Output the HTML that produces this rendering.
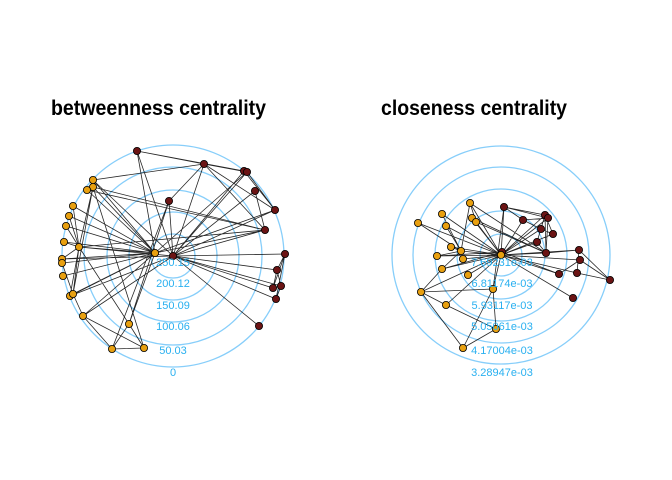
<!DOCTYPE html>
<html><head><meta charset="utf-8"><style>body{margin:0;background:#fff}svg{display:block}</style></head><body>
<svg width="672" height="480" xmlns="http://www.w3.org/2000/svg" font-family="Liberation Sans, sans-serif">
<rect width="672" height="480" fill="#fff"/>
<text x="51" y="115" font-size="21" font-weight="bold" textLength="215" lengthAdjust="spacingAndGlyphs">betweenness centrality</text>
<text x="381" y="115" font-size="21" font-weight="bold" textLength="186" lengthAdjust="spacingAndGlyphs">closeness centrality</text>
<g fill="none" stroke="#87cefa" stroke-width="1.3">
<circle cx="173" cy="256" r="111"/><circle cx="173" cy="256" r="89"/><circle cx="173" cy="256" r="66"/><circle cx="173" cy="256" r="44"/><circle cx="173" cy="256" r="22"/>
<circle cx="501" cy="255" r="109"/><circle cx="501" cy="255" r="88"/><circle cx="501" cy="255" r="66"/><circle cx="501" cy="255" r="44"/><circle cx="501" cy="255" r="21"/>
</g>
<g stroke="#000" stroke-width="0.8" stroke-opacity="0.85">
<!-- left edges -->
<path d="M173,256L137,151M173,256L204,164M173,256L244,171M173,256L247,172M173,256L255,191M173,256L275,210M173,256L265,230M173,256L169,201M173,256L285,254M173,256L277,270M173,256L273,288M173,256L281,286M173,256L276,299M173,256L259,326M173,256L79,247M173,256L93,180M173,256L265,230
M137,151L204,164M137,151L244,171M137,151L155,253M204,164L265,230M204,164L247,172M204,164L275,210M204,164L93,180M204,164L169,201M244,171L275,210M247,172L275,210M255,191L265,230M244,171L173,256M247,172L155,253M275,210L155,253M265,230L93,187M265,230L87,190M265,230L79,247M275,210L173,256
M285,254L277,270M285,254L276,299M277,270L273,288M277,270L281,286M281,286L276,299M273,288L281,286M285,254L273,288
M155,253L93,180M155,253L93,187M155,253L87,190M155,253L73,206M155,253L69,216M155,253L66,226M155,253L64,242M155,253L79,247M155,253L62,259M155,253L62,263M155,253L63,276M155,253L70,296M155,253L73,294M155,253L83,316M155,253L129,324M169,201L112,349M169,201L129,324M155,253L265,230
M79,247L93,187M79,247L73,206M79,247L69,216M79,247L66,226M79,247L64,242M79,247L62,259M79,247L70,296M79,247L73,294M79,247L129,324M93,187L73,294M93,187L144,348M73,294L83,316M73,294L155,253M73,294L62,263M70,296L173,256M83,316L112,349M83,316L144,348M83,316L173,256M129,324L112,349M129,324L144,348M112,349L144,348M62,259L173,256M64,242L155,253"/>
<!-- right edges -->
<path d="M501,255L504,207M501,255L523,220M501,255L545,215M501,255L548,218M501,255L541,229M501,255L553,234M501,255L537,242M501,255L546,253M501,255L579,250M501,255L580,260M501,255L577,273M501,255L559,274M501,255L573,298M501,255L470,203M501,255L442,214M501,255L472,218M501,255L476,222M501,255L418,223M501,255L446,226M501,255L451,247M501,255L461,251M501,255L437,256M501,255L463,259M501,255L442,269M501,255L468,275M501,255L493,289M501,255L421,292M501,255L446,305
M504,207L545,215M504,207L523,220M523,220L548,218M523,220L541,229M545,215L553,234M548,218L546,253M545,215L537,242M541,229L553,234M537,242L546,253M545,215L546,253M504,207L548,218M470,203L546,253M472,218L546,253M476,222L546,253M579,250L610,280M580,260L610,280M579,250L577,273M580,260L559,274M546,253L579,250M577,273L610,280M559,274L502,252
M470,203L461,251M470,203L476,222M442,214L461,251M446,226L461,251M418,223L461,251M451,247L461,251M437,256L461,251M442,269L461,251M442,269L421,292M421,292L493,289M421,292L446,305M421,292L463,348M493,289L496,329M493,289L463,348M493,289L504,207M446,305L496,329M463,348L496,329M468,275L501,255M442,269L502,252M437,256L502,252"/>
</g>
<g stroke="#000" stroke-width="0.8" fill="#e8a010">
<circle cx="93" cy="180" r="3.6"/><circle cx="93" cy="187" r="3.6"/><circle cx="87" cy="190" r="3.6"/><circle cx="73" cy="206" r="3.6"/><circle cx="69" cy="216" r="3.6"/><circle cx="66" cy="226" r="3.6"/><circle cx="64" cy="242" r="3.6"/><circle cx="79" cy="247" r="3.6"/><circle cx="62" cy="259" r="3.6"/><circle cx="62" cy="263" r="3.6"/><circle cx="63" cy="276" r="3.6"/><circle cx="70" cy="296" r="3.6"/><circle cx="73" cy="294" r="3.6"/><circle cx="83" cy="316" r="3.6"/><circle cx="129" cy="324" r="3.6"/><circle cx="112" cy="349" r="3.6"/><circle cx="144" cy="348" r="3.6"/><circle cx="155" cy="253" r="3.6"/>
<circle cx="470" cy="203" r="3.6"/><circle cx="442" cy="214" r="3.6"/><circle cx="472" cy="218" r="3.6"/><circle cx="476" cy="222" r="3.6"/><circle cx="418" cy="223" r="3.6"/><circle cx="446" cy="226" r="3.6"/><circle cx="451" cy="247" r="3.6"/><circle cx="461" cy="251" r="3.6"/><circle cx="437" cy="256" r="3.6"/><circle cx="463" cy="259" r="3.6"/><circle cx="442" cy="269" r="3.6"/><circle cx="468" cy="275" r="3.6"/><circle cx="421" cy="292" r="3.6"/><circle cx="493" cy="289" r="3.6"/><circle cx="446" cy="305" r="3.6"/><circle cx="496" cy="329" r="3.6"/><circle cx="463" cy="348" r="3.6"/>
</g>
<g stroke="#000" stroke-width="0.8" fill="#6b1414">
<circle cx="137" cy="151" r="3.6"/><circle cx="204" cy="164" r="3.6"/><circle cx="244" cy="171" r="3.6"/><circle cx="247" cy="172" r="3.6"/><circle cx="255" cy="191" r="3.6"/><circle cx="275" cy="210" r="3.6"/><circle cx="265" cy="230" r="3.6"/><circle cx="169" cy="201" r="3.6"/><circle cx="173" cy="256" r="3.6"/><circle cx="285" cy="254" r="3.6"/><circle cx="277" cy="270" r="3.6"/><circle cx="273" cy="288" r="3.6"/><circle cx="281" cy="286" r="3.6"/><circle cx="276" cy="299" r="3.6"/><circle cx="259" cy="326" r="3.6"/>
<circle cx="502" cy="252" r="3.6"/><circle cx="504" cy="207" r="3.6"/><circle cx="523" cy="220" r="3.6"/><circle cx="545" cy="215" r="3.6"/><circle cx="548" cy="218" r="3.6"/><circle cx="541" cy="229" r="3.6"/><circle cx="553" cy="234" r="3.6"/><circle cx="537" cy="242" r="3.6"/><circle cx="546" cy="253" r="3.6"/><circle cx="579" cy="250" r="3.6"/><circle cx="580" cy="260" r="3.6"/><circle cx="577" cy="273" r="3.6"/><circle cx="559" cy="274" r="3.6"/><circle cx="610" cy="280" r="3.6"/><circle cx="573" cy="298" r="3.6"/>
</g>
<circle cx="501" cy="255" r="3.6" fill="#e8a010" stroke="#000" stroke-width="0.8"/>
<g fill="#29b0f0" font-size="11" text-anchor="middle">
<text x="173" y="376">0</text><text x="173" y="354">50.03</text><text x="173" y="330">100.06</text><text x="173" y="309">150.09</text><text x="173" y="287">200.12</text><text x="173" y="266">250.15</text>
<text x="502" y="376">3.28947e-03</text><text x="502" y="354">4.17004e-03</text><text x="502" y="330">5.05061e-03</text><text x="502" y="309">5.93117e-03</text><text x="502" y="287">6.81174e-03</text><text x="502" y="266">7.69231e-03</text>
</g>
</svg>
</body></html>
